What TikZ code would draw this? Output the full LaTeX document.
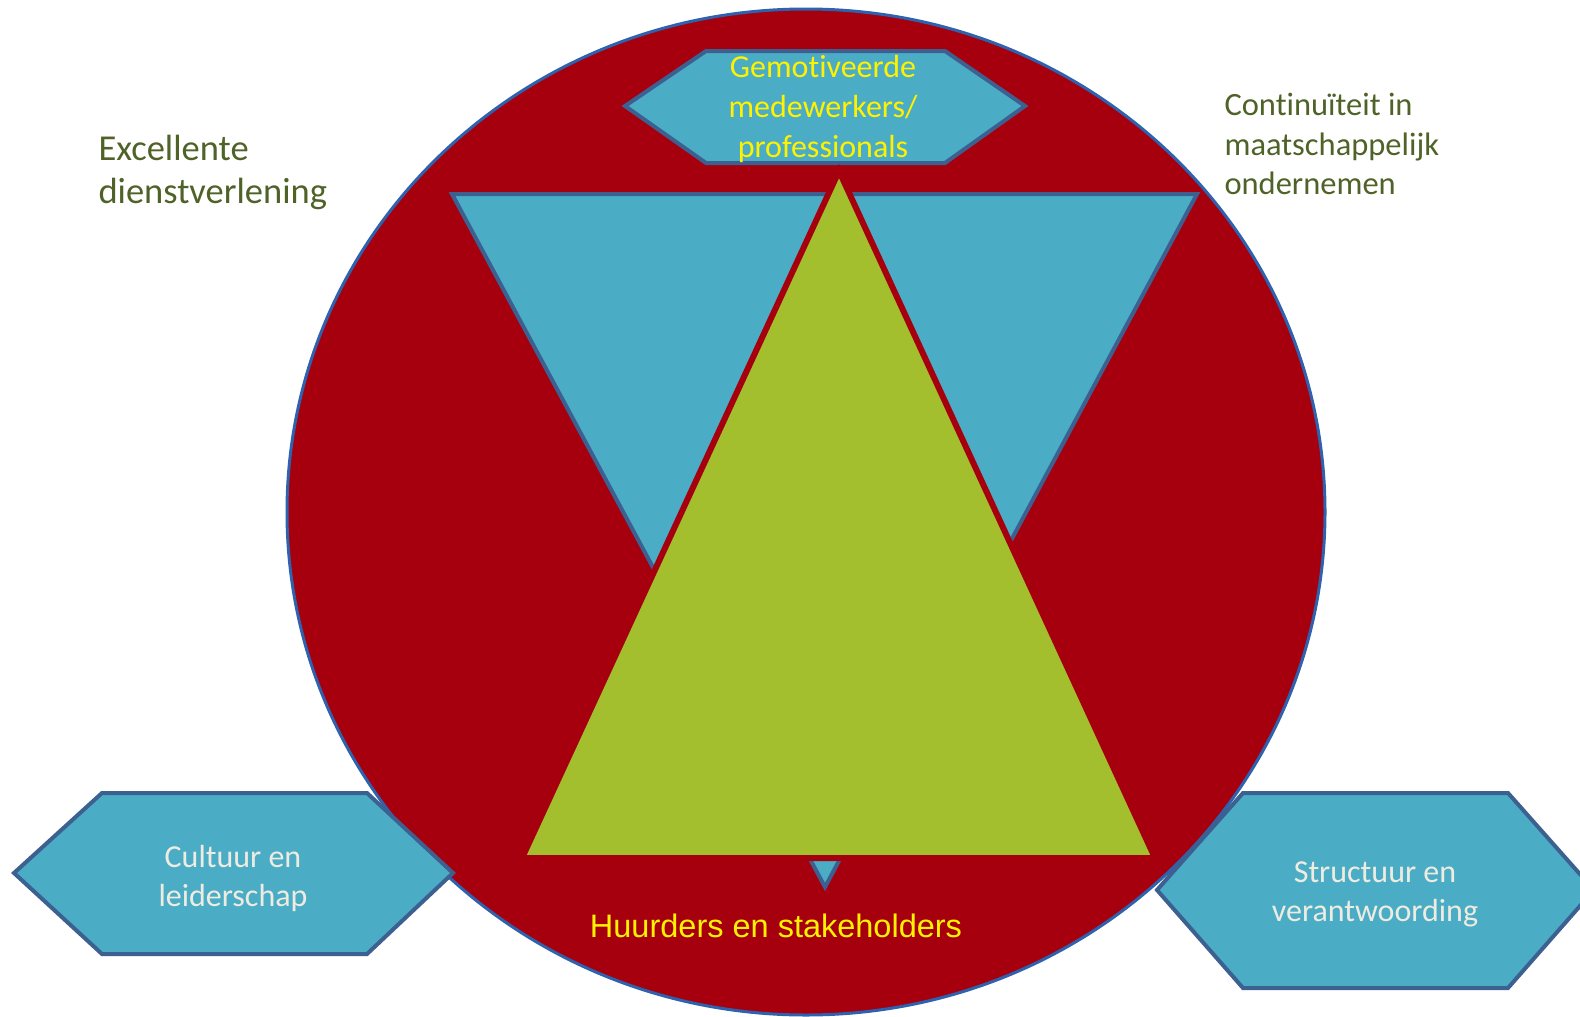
\documentclass[tikz,border=0pt]{standalone}
\usepackage{fontspec}
\setmainfont{Carlito}[Ligatures={NoCommon}]
\newfontfamily\arialf{Liberation Sans}
\definecolor{discred}{HTML}{A6000F}
\definecolor{discrim}{HTML}{2E62AE}
\definecolor{aqua}{HTML}{4BACC6}
\definecolor{aquaedge}{HTML}{3C6191}
\definecolor{leaf}{HTML}{A3BF2E}
\definecolor{olive}{HTML}{4F6228}
\definecolor{paper}{HTML}{EEECE1}
\begin{document}
\begin{tikzpicture}[x=1pt,y=-1pt,
  panel/.style={fill=aqua,draw=aquaedge,line width=4pt,line join=miter},
  hextext/.style={align=center,text=paper,font=\fontsize{32}{39}\selectfont},
  goaltext/.style={align=left,text=olive,anchor=west}]
\useasboundingbox (0,0) rectangle (1580,1017);

% central disc
\path[fill=discred,draw=discrim,line width=3pt] (806,512) ellipse [x radius=519,y radius=503];

% top hexagon
\path[panel] (625,106) -- (706,51) -- (945,51) -- (1025,106) -- (945,163) -- (706,163) -- cycle;
\node[hextext,text=yellow,font=\fontsize{32}{40}\selectfont] (staff) at (823,109)
  {Gemotiveerde\\medewerkers/\\professionals};

% inverted blue triangle
\path[panel] (452,194) -- (1197,194) -- (825,887) -- cycle;

% green triangle with red rim
\path[fill=leaf,draw=discred,line width=6pt,line join=miter] (839,171) -- (1155,858) -- (522,858) -- cycle;

% side hexagons
\path[panel] (14,873) -- (102,793) -- (367,793) -- (453,873) -- (367,954) -- (102,954) -- cycle;
\node[hextext] (culture) at (233,878) {Cultuur en\\leiderschap};

\path[panel] (1157,890) -- (1243,793) -- (1508,793) -- (1594,890) -- (1508,988) -- (1243,988) -- cycle;
\node[hextext] (structure) at (1375,894) {Structuur en\\verantwoording};

% goals outside the disc
\node[goaltext,font=\fontsize{36.5}{43}\selectfont] (service) at (95,172)
  {Excellente\\dienstverlening};
\node[goaltext,font=\fontsize{32.5}{39.3}\selectfont] (continuity) at (1221,144)
  {Continuïteit in\\maatschappelijk\\ondernemen};

% tenants label
\node[anchor=base,text=yellow,font=\arialf\fontsize{32.5}{39}\selectfont] (tenants) at (776,937)
  {Huurders en stakeholders};
\end{tikzpicture}
\end{document}
